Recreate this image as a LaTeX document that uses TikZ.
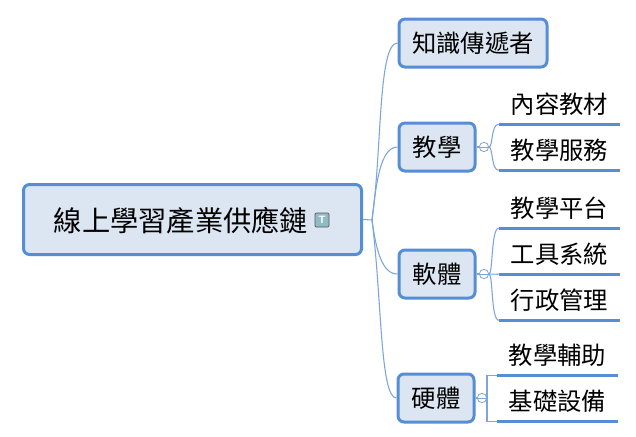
\documentclass[tikz,border=0pt]{standalone}
\usepackage{fontspec}
\setmainfont{Noto Sans CJK TC}
\definecolor{mmfill}{HTML}{DCE6F2}
\definecolor{mmline}{HTML}{558ED5}
\definecolor{mmthin}{HTML}{7BA5DC}
\definecolor{iconfill}{HTML}{8FBCC4}
\tikzset{
  topicbox/.style={draw=mmline,fill=mmfill,line width=2.25pt,rounded corners=4.5pt,inner sep=0pt,font=\fontsize{18.25}{20}\selectfont,text=black,anchor=center},
  rootbox/.style={topicbox},
  leaftopic/.style={inner sep=0pt,minimum width=90.75pt,minimum height=31.5pt,font=\fontsize{18.25}{20}\selectfont,text=black,text depth=0pt},
  leafrule/.style={draw=mmline,line width=2.25pt},
  thinlink/.style={draw=mmthin,line width=0.8pt},
  collapser/.style={circle,draw=mmthin,fill=white,line width=0.6pt,minimum size=7pt,inner sep=0pt},
}
\begin{document}
\begin{tikzpicture}[x=0.75pt,y=-0.75pt]
\useasboundingbox (0,0) rectangle (636,436);
\fill[white] (0,0) rectangle (636,436);
% root
\node[rootbox,minimum width=253.5pt,minimum height=52.5pt] (root) at (192.5,219.5) {};
\node[font=\fontsize{21.2}{24}\selectfont,inner sep=0pt] (roottext) at (181,221) {線上學習產業供應鏈};
\node[draw=gray!70!black,fill=iconfill,rounded corners=0.8pt,minimum size=10.5pt,inner sep=0pt,line width=0.5pt,text=white,font=\fontsize{8}{8}\sffamily\bfseries] (icon) at (322,220) {T};
% topics
\node[topicbox,minimum width=111pt,minimum height=36pt] (t1) at (473,43) {知識傳遞者};
\node[topicbox,minimum width=57pt,minimum height=36pt] (t2) at (437,147) {教學};
\node[topicbox,minimum width=57pt,minimum height=36pt] (t3) at (437,274) {軟體};
\node[topicbox,minimum width=57pt,minimum height=36pt] (t4) at (436,398) {硬體};
% root links
\coordinate (hub) at (372,220);
\draw[thinlink] (root.east) -- (hub);
\draw[thinlink] (hub) .. controls (382,150) and (378,43) .. (t1.west);
\draw[thinlink] (hub) .. controls (376,185) and (380,147) .. (t2.west);
\draw[thinlink] (hub) .. controls (376,250) and (382,274) .. (t3.west);
\draw[thinlink] (hub) .. controls (382,300) and (380,398) .. (t4.west);
% leaves
\node[leaftopic] (a1) at (559.5,103) {內容教材};
\node[leaftopic] (a2) at (559.5,149) {教學服務};
\node[leaftopic] (b1) at (559.5,207) {教學平台};
\node[leaftopic] (b2) at (559.5,253) {工具系統};
\node[leaftopic] (b3) at (559.5,299) {行政管理};
\node[leaftopic] (c1) at (557.5,354) {教學輔助};
\node[leaftopic] (c2) at (557.5,400) {基礎設備};
\foreach \n in {a1,a2,b1,b2,b3,c1,c2}{\draw[leafrule] (\n.south west) -- (\n.south east);}
% collapsers
\node[collapser] (j2) at (484,147) {};
\node[collapser] (j3) at (484,274) {};
\node[collapser] (j4) at (482,398) {};
\draw[thinlink] (t2.east) -- (j2.west);
\draw[thinlink] (t3.east) -- (j3.west);
\draw[thinlink] (t4.east) -- (j4.west);
\draw[thinlink] (j2.east) -- (489,147) .. controls (493,147) and (491,124) .. (a1.south west);
\draw[thinlink] (j2.east) -- (489,147) .. controls (493,147) and (491,170) .. (a2.south west);
\draw[thinlink] (j3.east) -- (489,274) .. controls (493,274) and (491,228) .. (b1.south west);
\draw[thinlink] (j3.east) -- (b2.south west);
\draw[thinlink] (j3.east) -- (489,274) .. controls (493,274) and (491,320) .. (b3.south west);
\draw[thinlink] (j4.east) -- (487,398) |- (c1.south west);
\draw[thinlink] (j4.east) -- (487,398) |- (c2.south west);
\draw[mmthin,line width=0.5pt] (j2.west) -- (j2.east) (j3.west) -- (j3.east) (j4.west) -- (j4.east);
\end{tikzpicture}
\end{document}
